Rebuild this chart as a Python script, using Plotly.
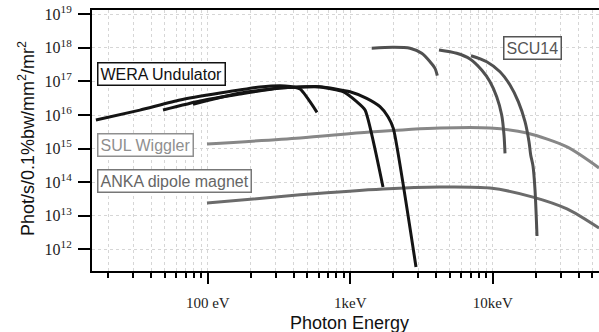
import plotly.graph_objects as go

# Photon energy (eV) and brilliance (phot/s/0.1%bw/mm^2/mr^2) for each source
wera_a_e = [16.4, 33.4, 63.8, 122, 232, 348, 444, 584]
wera_a_f = [7.1e15, 1.4e16, 2.8e16, 4.5e16, 6.8e16, 7.3e16, 5.9e16, 1.2e16]

wera_b_e = [48.5, 88.2, 168, 321, 613, 889, 1109, 1269, 1696]
wera_b_f = [1.41e16, 2.6e16, 4.2e16, 6.4e16, 6.8e16, 4.93e16, 2.49e16, 1.41e16, 7.2e13]

wera_c_e = [78.7, 168, 321, 613, 995, 1303, 1616, 1839, 2004, 2891]
wera_c_f = [2.1e16, 4.5e16, 6.4e16, 6.95e16, 4.93e16, 3.14e16, 1.77e16, 8.9e15, 4.0e15, 3.0e11]

sul_e = [98.7, 444, 1375, 4260, 9560, 17380, 33170, 55640]
sul_f = [1.37e15, 2.07e15, 3.1e15, 4.1e15, 4.1e15, 2.9e15, 1.12e15, 2.65e14]

anka_e = [98.7, 444, 1696, 4260, 9560, 19150, 33170, 55640]
anka_f = [2.4e13, 4.2e13, 6.3e13, 7.2e13, 6.7e13, 3.6e13, 1.6e13, 4.3e12]

scu1_e = [1413, 2004, 2624, 3171, 3625, 3930, 4079]
scu1_f = [9.67e17, 1.035e18, 9.67e17, 6.86e17, 3.86e17, 2.45e17, 1.48e17]

scu2_e = [4193, 5580, 6918, 8358, 9559, 10650, 11550, 11985, 12180]
scu2_f = [8.6e17, 6.86e17, 4.64e17, 2.18e17, 9.8e16, 3.5e16, 1.0e16, 2.54e15, 7.24e14]

scu3_e = [7031, 9063, 11230, 13204, 15100, 16830, 17950, 18450, 19150, 19780, 20430]
scu3_f = [5.82e17, 3.86e17, 1.94e17, 7.8e16, 2.49e16, 6.3e15, 1.6e15, 6.45e14,
          3.03e14, 5.9e13, 2.5e12]

x_tick_vals = [100, 1000, 10000]
x_tick_text = ["100 eV", "1keV", "10keV"]
x_minor_vals = [m * 10 ** d for d in range(1, 5) for m in range(2, 10)]
y_tick_vals = [10 ** p for p in range(12, 20)]
y_tick_text = ["10<sup>%d</sup>" % p for p in range(12, 20)]

BLACK = "#141414"
SUL_GRAY = "#878787"
ANKA_GRAY = "#6b6b6b"
SCU_GRAY = "#505050"

fig = go.Figure()


def add_curve(e, f, color, width=3, smooth=0.8):
    fig.add_trace(go.Scatter(
        x=e, y=f, mode="lines",
        line=dict(color=color, width=width, shape="spline", smoothing=smooth),
        showlegend=False, hoverinfo="skip"))


add_curve(anka_e, anka_f, ANKA_GRAY)
add_curve(sul_e, sul_f, SUL_GRAY)
add_curve(scu1_e, scu1_f, SCU_GRAY)
add_curve(scu2_e, scu2_f, SCU_GRAY)
add_curve(scu3_e, scu3_f, SCU_GRAY)
add_curve(wera_a_e, wera_a_f, BLACK, smooth=0.5)
add_curve(wera_b_e, wera_b_f, BLACK, smooth=0.5)
add_curve(wera_c_e, wera_c_f, BLACK, smooth=0.5)

GRID = "#d6d6d6"
serif = "Liberation Serif, Times New Roman, serif"
sans = "Liberation Sans, Arial, sans-serif"

fig.update_xaxes(
    type="log", range=[1.1874, 4.7453],
    tickmode="array", tickvals=x_tick_vals, ticktext=x_tick_text,
    ticks="outside", ticklen=11, tickwidth=2, tickcolor="black",
    tickfont=dict(family=serif, size=15, color="#222"),
    ticklabelstandoff=6,
    showline=True, linecolor="black", linewidth=2, mirror=True,
    showgrid=True, gridcolor=GRID, griddash="dot", gridwidth=1,
    minor=dict(tickvals=x_minor_vals, ticks="outside", ticklen=5,
               tickwidth=2, tickcolor="black",
               showgrid=True, gridcolor=GRID, griddash="dot", gridwidth=1),
    zeroline=False,
)
fig.update_yaxes(
    type="log", range=[11.357, 19.125],
    tickmode="array", tickvals=y_tick_vals, ticktext=y_tick_text,
    ticks="outside", ticklen=12, tickwidth=2, tickcolor="black",
    tickfont=dict(family=serif, size=16, color="#222"),
    ticklabelstandoff=3,
    showline=True, linecolor="black", linewidth=2, mirror=False,
    showgrid=True, gridcolor=GRID, griddash="dot", gridwidth=1,
    zeroline=False,
)

PL, PR, PT, PB = 92, 599, 10, 271


def px_x(x):
    return (x - PL) / (PR - PL)


def px_y(y):
    return (PB - y) / (PB - PT)


def box_label(text, left, top, color, border):
    fig.add_annotation(
        text=text, xref="paper", yref="paper",
        x=px_x(left), y=px_y(top), xanchor="left", yanchor="top",
        showarrow=False, font=dict(family=sans, size=16, color=color),
        bordercolor=border, borderwidth=1.5, borderpad=2, bgcolor="white")


box_label("WERA Undulator", 97, 62, "#111", "#111")
box_label("SUL Wiggler", 97, 133, "#8f8f8f", "#8f8f8f")
box_label("ANKA dipole magnet", 97, 169, "#666", "#777")
box_label("SCU14", 503, 36, "#555", "#555")

# axis titles
fig.add_annotation(
    text="Phot/s/0.1%bw/mm<sup>2</sup>/mr<sup>2</sup>",
    xref="paper", yref="paper", x=px_x(26), y=px_y(139),
    xanchor="center", yanchor="middle", textangle=-90, showarrow=False,
    font=dict(family=sans, size=18, color="#111"))
fig.add_annotation(
    text="Photon Energy", xref="paper", yref="paper",
    x=px_x(349.5), y=px_y(323), xanchor="center", yanchor="middle",
    showarrow=False, font=dict(family=sans, size=18, color="#111"))

fig.update_layout(
    width=599, height=332,
    margin=dict(l=PL, r=0, t=PT, b=332 - PB),
    paper_bgcolor="white", plot_bgcolor="white",
    showlegend=False,
)

fig.write_html("out.html")
